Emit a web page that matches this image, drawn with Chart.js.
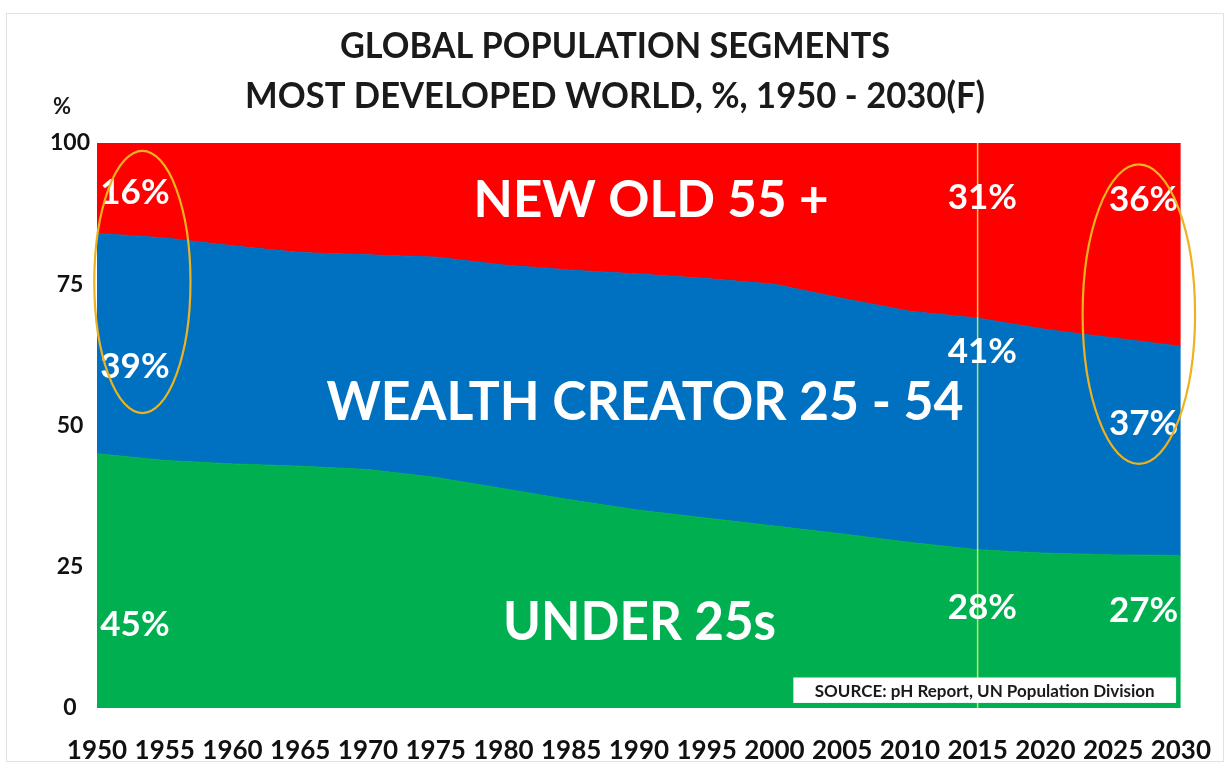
<!DOCTYPE html>
<html>
<head>
<meta charset="utf-8">
<script src="https://cdn.jsdelivr.net/npm/chart.js@4.4.1/dist/chart.umd.min.js"></script>
<style>
  html, body { margin: 0; padding: 0; background: #fff; }
  #wrap { width: 1230px; height: 767px; position: relative; }
</style>
</head>
<body>
<div id="wrap"><canvas id="popChart" width="1230" height="767"></canvas></div>
<script>
// values, % of population
const years = ['1950','1955','1960','1965','1970','1975','1980','1985','1990','1995','2000','2005','2010','2015','2020','2025','2030'];
const under25 = [45, 43.8, 43.2, 42.8, 42.2, 40.8, 38.8, 36.8, 35.0, 33.6, 32.2, 30.8, 29.3, 28, 27.4, 27.1, 27];
const wealthCreator = [39, 39.4, 38.6, 37.8, 38.0, 39.0, 39.6, 40.7, 41.8, 42.4, 42.8, 41.7, 40.9, 41, 39.6, 38.4, 37];
const newOld = [16, 16.8, 18.2, 19.4, 19.8, 20.2, 21.6, 22.5, 23.2, 24.0, 25.0, 27.5, 29.8, 31, 33, 34.5, 36];
const yTicks = [0, 25, 50, 75, 100];

const titleLines = ['GLOBAL POPULATION SEGMENTS', 'MOST DEVELOPED WORLD, %, 1950 - 2030(F)'];
const sourceText = 'SOURCE: pH Report, UN Population Division';

// text placed inside the plot: [x as year index, y as %, text, font px, max width]
const areaLabels = [
  [8.18, 89.9, 'NEW OLD 55 +', 52, 355],
  [8.09, 54.0, 'WEALTH CREATOR 25 - 54', 54, 637],
  [8.01, 15.2, 'UNDER 25s', 54, 273],
  [0.56, 91.2, '16%', 35, 70],
  [0.56, 60.4, '39%', 35, 70],
  [0.56, 14.7, '45%', 35, 70],
  [13.07, 90.4, '31%', 35, 76],
  [13.07, 63.0, '41%', 35, 76],
  [13.07, 17.7, '28%', 35, 76],
  [15.45, 89.9, '36%', 35, 72],
  [15.45, 50.4, '37%', 35, 72],
  [15.45, 17.3, '27%', 35, 72]
];
// highlight ellipses: [centre x index, centre y %, radius x in index units, radius y in %]
const rings = [
  [0.67, 75.4, 0.71, 23.2],
  [15.38, 69.7, 0.83, 26.5]
];
const markYear = '2015';

const FONT = 'Lato, "Open Sans", sans-serif';

const overlay = {
  id: 'overlay',
  beforeDraw(chart) {
    const ctx = chart.ctx;
    ctx.save();
    ctx.fillStyle = '#fff';
    ctx.fillRect(0, 0, chart.width, chart.height);
    ctx.strokeStyle = '#e2e2e2';
    ctx.lineWidth = 1;
    ctx.strokeRect(6.5, 13.5, 1217, 748);
    ctx.fillStyle = '#1a1a1a';
    ctx.textAlign = 'center';
    ctx.textBaseline = 'alphabetic';
    ctx.font = 'bold 36px ' + FONT;
    ctx.fillText(titleLines[0], 615, 58, 550);
    ctx.fillText(titleLines[1], 615, 108, 740);
    ctx.font = 'bold 22px ' + FONT;
    ctx.fillText('%', 62, 114);
    ctx.restore();
  },
  afterDatasetsDraw(chart) {
    const ctx = chart.ctx;
    const x = chart.scales.x, y = chart.scales.y;
    const area = chart.chartArea;
    ctx.save();

    // 2015 marker line
    const mx = x.getPixelForValue(years.indexOf(markYear));
    ctx.strokeStyle = 'rgba(230,255,90,0.8)';
    ctx.lineWidth = 1.5;
    ctx.beginPath();
    ctx.moveTo(mx, area.top);
    ctx.lineTo(mx, area.bottom);
    ctx.stroke();

    // source box
    const bx0 = x.getPixelForValue(10.28), bx1 = x.getPixelForValue(15.93);
    const by0 = y.getPixelForValue(5.4), by1 = y.getPixelForValue(0.9);
    ctx.fillStyle = '#fff';
    ctx.fillRect(bx0, by0, bx1 - bx0, by1 - by0);
    ctx.fillStyle = '#1a1a1a';
    ctx.font = 'bold 17px ' + FONT;
    ctx.textAlign = 'center';
    ctx.textBaseline = 'middle';
    ctx.fillText(sourceText, (bx0 + bx1) / 2, (by0 + by1) / 2 + 1, 366);

    // segment labels
    ctx.fillStyle = '#fff';
    areaLabels.forEach(function (l) {
      ctx.font = 'bold ' + l[3] + 'px ' + FONT;
      ctx.fillText(l[2], x.getPixelForValue(l[0]), y.getPixelForValue(l[1]), l[4]);
    });

    // ellipses
    const pxPerIdx = x.getPixelForValue(1) - x.getPixelForValue(0);
    const pxPerPct = y.getPixelForValue(0) - y.getPixelForValue(1);
    ctx.strokeStyle = '#EDB21F';
    ctx.lineWidth = 2.2;
    rings.forEach(function (r) {
      ctx.beginPath();
      ctx.ellipse(x.getPixelForValue(r[0]), y.getPixelForValue(r[1]), r[2] * pxPerIdx, r[3] * pxPerPct, 0, 0, Math.PI * 2);
      ctx.stroke();
    });
    ctx.restore();
  }
};

function build() {
  const config = {
    type: 'line',
    data: {
      labels: years,
      datasets: [
        { label: 'Under 25s', data: under25, backgroundColor: '#00B050', borderColor: '#00B050', fill: 'origin' },
        { label: 'Wealth creator 25 - 54', data: wealthCreator, backgroundColor: '#0070C0', borderColor: '#0070C0', fill: '-1' },
        { label: 'New old 55 +', data: newOld, backgroundColor: '#FF0000', borderColor: '#FF0000', fill: '-1' }
      ]
    },
    options: {
      responsive: false,
      animation: false,
      events: [],
      elements: { point: { radius: 0 }, line: { borderWidth: 1, tension: 0 } },
      layout: { padding: { top: 143, right: 47, left: 0, bottom: 0 } },
      plugins: { legend: { display: false }, tooltip: { enabled: false }, title: { display: false } },
      scales: {
        x: {
          offset: false,
          grid: { display: false },
          border: { display: false },
          ticks: { autoSkip: false, maxRotation: 0, color: '#111', padding: 19, font: { family: FONT, weight: 'bold', size: 26 } },
          afterFit(s) { s.height = 59; }
        },
        y: {
          stacked: true,
          min: 0,
          max: 100,
          grid: { display: false, drawTicks: false },
          border: { display: false },
          afterBuildTicks(s) { s.ticks = yTicks.map(v => ({ value: v })); },
          ticks: { color: '#111', padding: 7, crossAlign: 'center', font: { family: FONT, weight: 'bold', size: 23 } },
          afterFit(s) { s.width = 97; }
        }
      }
    },
    plugins: [overlay]
  };
  new Chart(document.getElementById('popChart'), config);
}

Promise.all([
  document.fonts.load('bold 20px Lato'),
  document.fonts.load('bold 20px "Open Sans"')
]).then(build, build);
</script>
</body>
</html>
